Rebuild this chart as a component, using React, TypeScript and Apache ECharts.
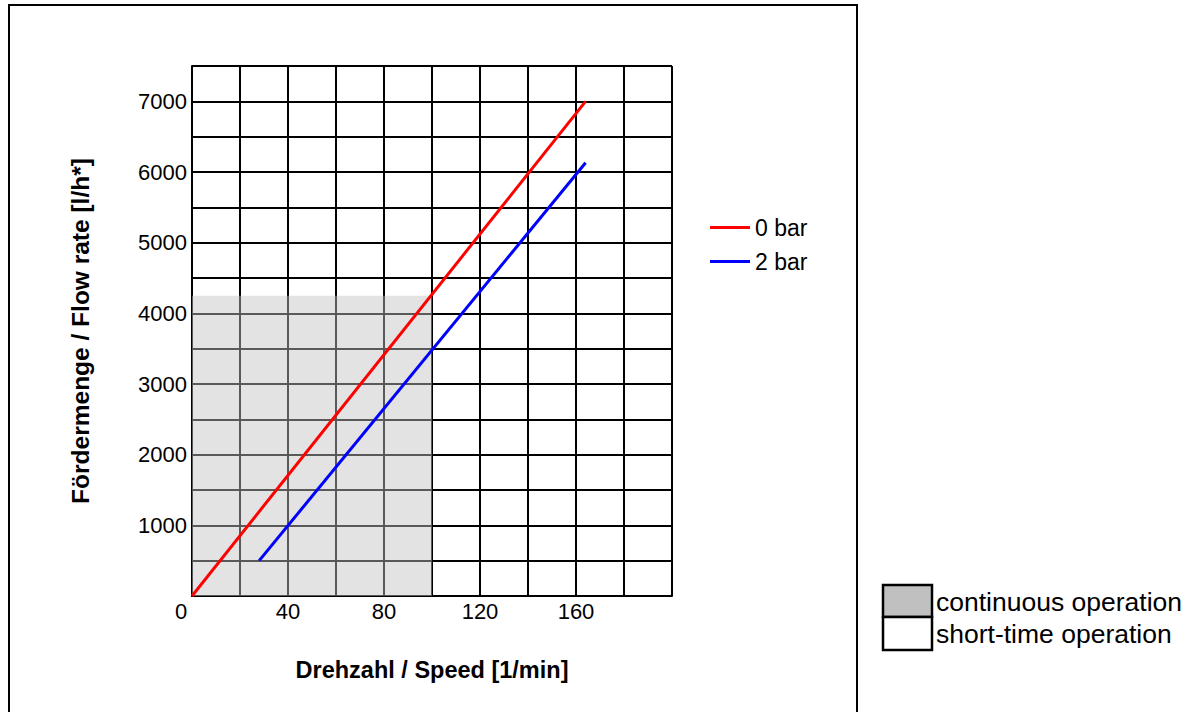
import React, { useEffect, useRef } from "react";
import * as echarts from "echarts";

const xMin = 0;
const xMax = 200;
const xStep = 20;
const yMin = 0;
const yMax = 7500;
const yStep = 500;

const seriesNames = ["0 bar", "2 bar"];
const seriesColors = ["#ff0000", "#0000ff"];
const bar0Points: [number, number][] = [
  [0, 0],
  [164, 7000],
];
const bar2Points: [number, number][] = [
  [28, 500],
  [164, 6130],
];

// continuous operation region: speed 0..100, flow 0..4250
const continuousRegion: [number, number][] = [
  [0, 0],
  [100, 4250],
];

const xTitle = "Drehzahl / Speed [1/min]";
const yTitle = "Fördermenge / Flow rate [l/h*]";
const regionLabels = ["continuous operation", "short-time operation"];

const FONT = "'Liberation Sans', Arial, Helvetica, sans-serif";

export default function App() {
  const ref = useRef<HTMLDivElement>(null);

  useEffect(() => {
    document.body.style.margin = "0";
    if (!ref.current) return;
    const chart = echarts.init(ref.current, undefined, { renderer: "svg" });

    const option: any = {
      animation: false,
      backgroundColor: "#ffffff",
      textStyle: { fontFamily: FONT },
      grid: { left: 192, right: 523, top: 66, bottom: 116, containLabel: false },
      legend: {
        data: seriesNames,
        orient: "vertical",
        left: 705,
        top: 211,
        icon: "rect",
        itemWidth: 40,
        itemHeight: 3,
        itemGap: 11,
        textStyle: { fontSize: 23, color: "#000", fontFamily: FONT, lineHeight: 23 },
        selectedMode: false,
      },
      xAxis: {
        type: "value",
        min: xMin,
        max: xMax,
        interval: xStep,
        name: xTitle,
        nameLocation: "middle",
        nameGap: 62,
        nameTextStyle: { fontSize: 23.5, fontWeight: "bold", color: "#000", fontFamily: FONT },
        axisLine: { show: true, onZero: false, lineStyle: { color: "#000", width: 2 } },
        axisTick: { show: false },
        splitLine: { show: true, lineStyle: { color: "#000", width: 2 } },
        axisLabel: {
          interval: 1,
          showMaxLabel: false,
          margin: 4,
          fontSize: 22,
          color: "#000",
          fontFamily: FONT,
          formatter: (v: number) => (v === 0 ? "{z|0}" : v % 40 === 0 && v < xMax ? String(v) : ""),
          rich: {
            z: { fontSize: 22, color: "#000", fontFamily: FONT, padding: [0, 22, 0, 0] },
          },
        },
      },
      yAxis: {
        type: "value",
        min: yMin,
        max: yMax,
        interval: yStep,
        name: yTitle,
        nameLocation: "middle",
        nameGap: 99,
        nameTextStyle: { fontSize: 24.5, fontWeight: "bold", color: "#000", fontFamily: FONT },
        axisLine: { show: true, lineStyle: { color: "#000", width: 2 } },
        axisTick: { show: false },
        splitLine: { show: true, lineStyle: { color: "#000", width: 2 } },
        axisLabel: {
          margin: 5,
          fontSize: 22,
          color: "#000",
          fontFamily: FONT,
          formatter: (v: number) => (v > 0 && v < yMax && v % 1000 === 0 ? String(v) : ""),
        },
      },
      series: [
        {
          name: "region",
          type: "line",
          data: [],
          z: 1,
          silent: true,
          markArea: {
            silent: true,
            itemStyle: { color: "rgba(194,194,194,0.46)", borderWidth: 0 },
            data: [[{ coord: continuousRegion[0] }, { coord: continuousRegion[1] }]],
          },
        },
        {
          name: seriesNames[0],
          type: "line",
          data: bar0Points,
          color: seriesColors[0],
          symbol: "none",
          z: 3,
          lineStyle: { color: seriesColors[0], width: 3 },
        },
        {
          name: seriesNames[1],
          type: "line",
          data: bar2Points,
          color: seriesColors[1],
          symbol: "none",
          z: 3,
          lineStyle: { color: seriesColors[1], width: 3 },
        },
      ],
      graphic: [
        {
          type: "rect",
          shape: { x: 9, y: 5, width: 848, height: 730 },
          style: { fill: "none", stroke: "#000", lineWidth: 2 },
          silent: true,
        },
        {
          type: "rect",
          shape: { x: 883, y: 585, width: 49, height: 32 },
          style: { fill: "#c0c0c0", stroke: "#000", lineWidth: 2.5 },
          silent: true,
        },
        {
          type: "rect",
          shape: { x: 883, y: 617, width: 49, height: 33 },
          style: { fill: "#ffffff", stroke: "#000", lineWidth: 2.5 },
          silent: true,
        },
        {
          type: "text",
          x: 936,
          y: 602,
          style: {
            text: regionLabels[0],
            fontSize: 26.5,
            fontFamily: FONT,
            fill: "#000",
            verticalAlign: "middle",
            align: "left",
          },
          silent: true,
        },
        {
          type: "text",
          x: 936,
          y: 634,
          style: {
            text: regionLabels[1],
            fontSize: 26.5,
            fontFamily: FONT,
            fill: "#000",
            verticalAlign: "middle",
            align: "left",
          },
          silent: true,
        },
      ],
    };

    chart.setOption(option);
    return () => chart.dispose();
  }, []);

  return (
    <div
      ref={ref}
      style={{ position: "absolute", left: 0, top: 0, width: 1195, height: 712 }}
    />
  );
}
